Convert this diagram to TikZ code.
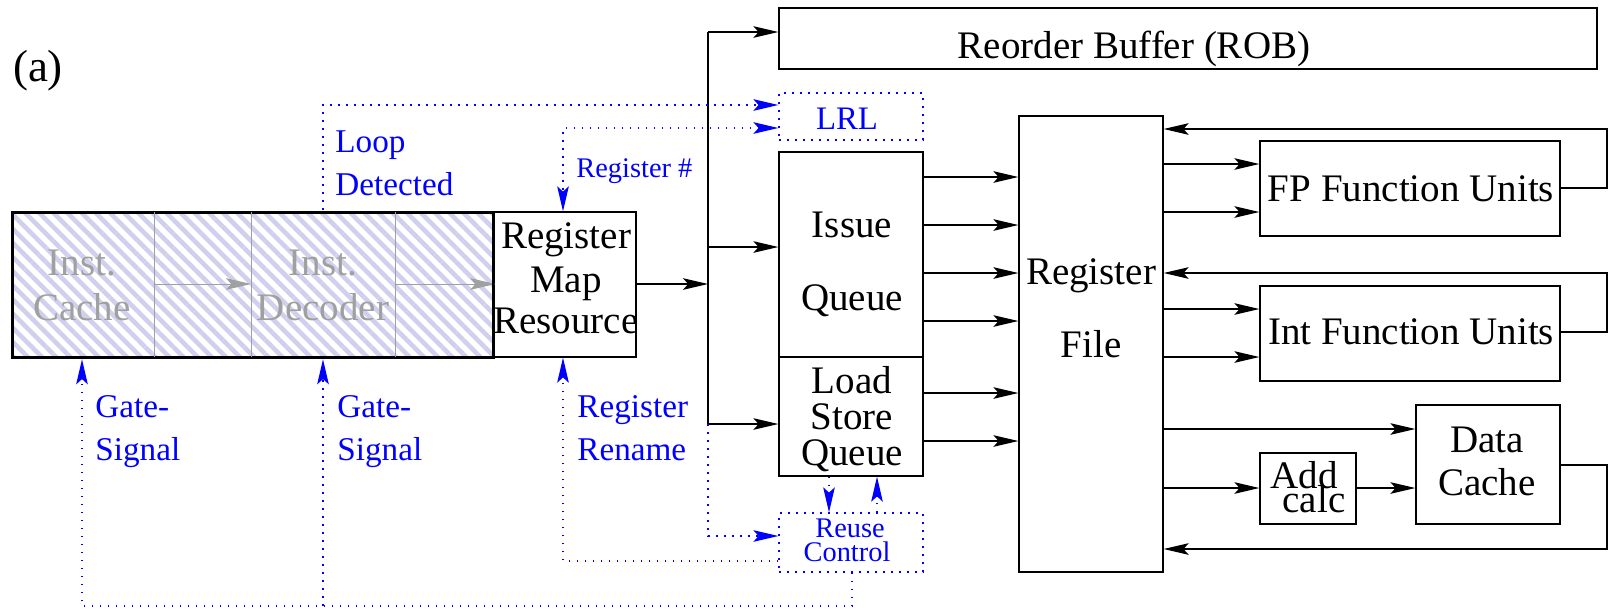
\documentclass[tikz,border=0pt]{standalone}
\usepackage{fontspec}
\setmainfont{Liberation Serif}
\usetikzlibrary{arrows.meta,fit,patterns.meta}
\definecolor{hatchcol}{RGB}{208,208,238}
\definecolor{dimtext}{RGB}{160,160,160}
\definecolor{sigblue}{RGB}{0,0,255}
\tikzset{
  tip/.tip={Stealth[length=12.5pt,width=5.8pt,inset=2.6pt]},
  blk/.style={draw=black,line width=0.65pt,inner sep=0pt},
  sigbox/.style={draw=sigblue,line width=0.65pt,inner sep=0pt,dash pattern=on 0.8pt off 3.2pt},
  arr/.style={draw=black,line width=0.65pt,-tip},
  wire/.style={draw=black,line width=0.65pt},
  sig/.style={draw=sigblue,line width=0.65pt,dash pattern=on 0.8pt off 3.2pt},
  sigarr/.style={sig,-tip},
  grayarr/.style={draw=dimtext,line width=0.5pt,-tip},
  big/.style={font=\fontsize{19.5}{21}\selectfont,inner sep=0pt},
  lbl/.style={text=sigblue,font=\fontsize{16.6}{20}\selectfont,inner sep=0pt},
  small/.style={text=sigblue,font=\fontsize{14.2}{16}\selectfont,inner sep=0pt},
}
\begin{document}
\begin{tikzpicture}[x=0.5pt,y=-0.5pt]
\useasboundingbox (0,0) rectangle (1609,612);

% front-end stages (gated off)
\node[draw=black,line width=1.5pt,inner sep=0pt,
      pattern={Lines[angle=-45,distance=5pt,line width=2.3pt]},pattern color=hatchcol,
      fit={(12,212) (493,357)}] (hat) {};
\draw[dimtext,line width=0.5pt] (154,212) -- (154,357) (251,212) -- (251,357) (395,212) -- (395,357);
\node[big,text=dimtext,anchor=base] (icache) at (82,275) {Inst.};
\node[big,text=dimtext,anchor=base] (icache2) at (82,320) {Cache};
\node[big,text=dimtext,anchor=base] (idec) at (323,275) {Inst.};
\node[big,text=dimtext,anchor=base] (idec2) at (323,320) {Decoder};
\coordinate (d1) at (154,284);
\coordinate (d2) at (251,284);
\coordinate (d3) at (395,284);
\draw[grayarr] (d1) -- (d2);
\draw[grayarr] (d3) -- (hat.east |- d3);

% main blocks
\node[blk,fit={(493,212) (636,357)}] (reg) {};
\node[blk,fit={(779,8) (1597,69)}] (rob) {};
\node[sigbox,fit={(779,93) (923,140)}] (lrl) {};
\node[blk,fit={(779,152) (923,357)}] (iq) {};
\node[blk,fit={(779,357) (923,476)}] (lsq) {};
\node[sigbox,fit={(779,513) (923,572)}] (ruc) {};
\node[blk,fit={(1019,116) (1163,572)}] (rf) {};
\node[blk,fit={(1260,141) (1560,236)}] (fp) {};
\node[blk,fit={(1260,286) (1560,381)}] (intu) {};
\node[blk,fit={(1416,405) (1560,524)}] (dc) {};
\node[blk,fit={(1260,453) (1356,524)}] (ac) {};

% block texts
\node[anchor=base,inner sep=0pt,font=\fontsize{22.5}{24}\selectfont] (tag) at (38,81) {(a)};
\node[big,anchor=base] (robt) at (1134,58) {Reorder Buffer (ROB)};
\node[big,anchor=base] (regt1) at (566,248) {Register};
\node[big,anchor=base] (regt2) at (566,292) {Map};
\node[big,anchor=base] (regt3) at (566,333) {Resource};
\node[big,anchor=base] (iqt1) at (852,237) {Issue};
\node[big,anchor=base] (iqt2) at (852,310) {Queue};
\node[big,anchor=base] (lst1) at (852,393) {Load};
\node[big,anchor=base] (lst2) at (852,429) {Store};
\node[big,anchor=base] (lst3) at (852,465) {Queue};
\node[big,anchor=base] (rft1) at (1091,284) {Register};
\node[big,anchor=base] (rft2) at (1091,357) {File};
\node[big,anchor=base] (fpt) at (1411,201) {FP Function Units};
\node[big,anchor=base] (intt) at (1411,344) {Int Function Units};
\node[big,anchor=base] (dct1) at (1487,452) {Data};
\node[big,anchor=base] (dct2) at (1487,495) {Cache};
\node[big,anchor=base] (act1) at (1304,488) {Add};
\node[big,anchor=base] (act2) at (1314,512) {calc};
\node[anchor=base,inner sep=0pt,text=sigblue,font=\fontsize{16.4}{18}\selectfont] (lrlt) at (847,129) {LRL};
\node[small,anchor=base] (rct1) at (850,537) {Reuse};
\node[small,anchor=base] (rct2) at (847,561) {Control};

% signal labels
\node[lbl,anchor=base west] (ld1) at (335,152) {Loop};
\node[lbl,anchor=base west] (ld2) at (335,195) {Detected};
\node[small,anchor=base west] (rnum) at (576,177) {Register \#};
\node[lbl,anchor=base west] (g1a) at (95,417) {Gate-};
\node[lbl,anchor=base west] (g1b) at (95,460) {Signal};
\node[lbl,anchor=base west] (g2a) at (337,417) {Gate-};
\node[lbl,anchor=base west] (g2b) at (337,460) {Signal};
\node[lbl,anchor=base west] (rr1) at (577,417) {Register};
\node[lbl,anchor=base west] (rr2) at (577,460) {Rename};

% dispatch bus
\coordinate (btop) at (708,32);
\coordinate (bmid) at (708,284);
\coordinate (biq) at (708,247);
\coordinate (bls) at (708,424);
\coordinate (bru) at (708,536);
\draw[arr] (reg.east |- bmid) -- (bmid);
\draw[wire] (btop) -- (bls);
\draw[arr] (btop) -- (rob.west |- btop);
\draw[arr] (biq) -- (iq.west |- biq);
\draw[arr] (bls) -- (lsq.west |- bls);
\draw[sigarr] (bls) -- (bru) -- (ruc.west |- bru);

% queues to register file
\foreach \yy in {177,225,273,321} \draw[arr] (iq.east |- 0,\yy) -- (rf.west |- 0,\yy);
\foreach \yy in {393,441} \draw[arr] (lsq.east |- 0,\yy) -- (rf.west |- 0,\yy);

% register file to execution units and back
\foreach \yy in {164,212} \draw[arr] (rf.east |- 0,\yy) -- (fp.west |- 0,\yy);
\foreach \yy in {309,357} \draw[arr] (rf.east |- 0,\yy) -- (intu.west |- 0,\yy);
\draw[arr] (rf.east |- 0,429) -- (dc.west |- 0,429);
\draw[arr] (rf.east |- 0,488) -- (ac.west |- 0,488);
\draw[arr] (ac.east |- 0,488) -- (dc.west |- 0,488);
\draw[arr] (fp.east |- 0,188) -- (1607,188) -- (1607,129) -- (rf.east |- 0,129);
\draw[arr] (intu.east |- 0,332) -- (1607,332) -- (1607,273) -- (rf.east |- 0,273);
\draw[arr] (dc.east |- 0,465) -- (1607,465) -- (1607,549) -- (rf.east |- 0,549);

% control signals
\draw[sigarr] (hat.north -| 323,0) -- (323,105) -- (lrl.west |- 0,105);
\draw[sig,tip-tip] (lrl.west |- 0,128) -- (563,128) -- (reg.north -| 563,0);
\draw[sigarr] (lsq.south -| 829,0) -- (ruc.north -| 829,0);
\draw[sigarr] (ruc.north -| 877,0) -- (lsq.south -| 877,0);
\draw[sigarr] (ruc.west |- 0,561) -- (563,561) -- (reg.south -| 563,0);
\coordinate (gbot) at (852,606);
\draw[sigarr] (ruc.south -| gbot) -- (gbot) -- (82,606) -- (hat.south -| 82,0);
\draw[sigarr] (323,606) -- (hat.south -| 323,0);
\end{tikzpicture}
\end{document}
